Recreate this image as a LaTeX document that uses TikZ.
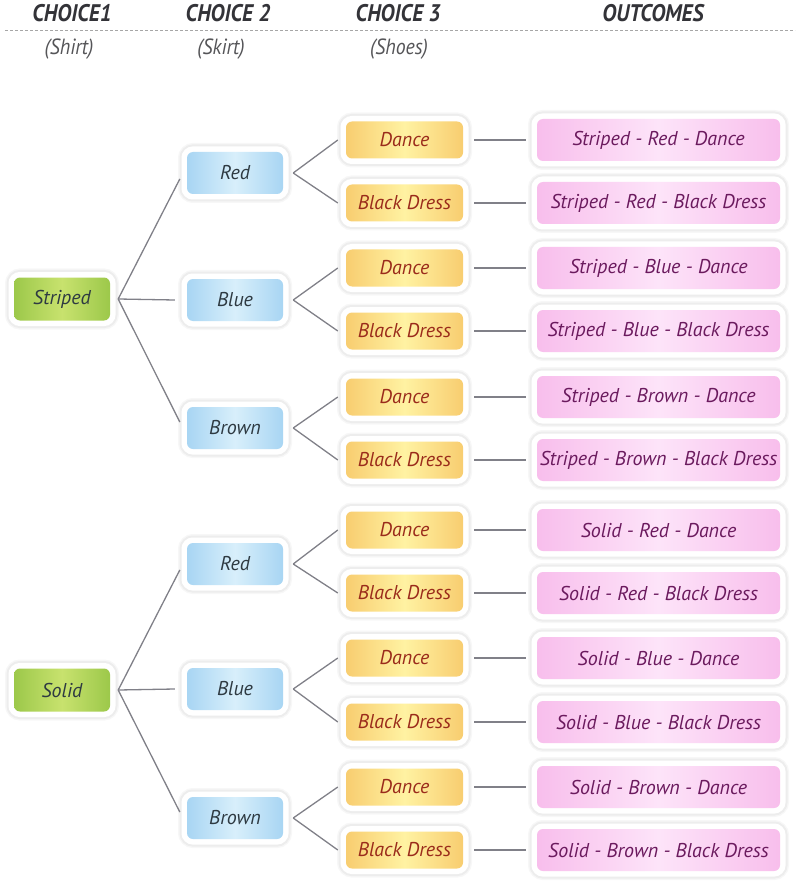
\documentclass[tikz,border=0pt]{standalone}
\usepackage{fontspec}
\setmainfont{PT Sans}
\newfontfamily\headfont[FakeStretch=0.9]{PT Sans}
\usetikzlibrary{calc}
\definecolor{gEdge}{HTML}{9CC84A}
\definecolor{gMid}{HTML}{C8E26E}
\definecolor{bEdge}{HTML}{A8D5F3}
\definecolor{bMid}{HTML}{D8EFFB}
\definecolor{yEdge}{HTML}{F8CD70}
\definecolor{yMid}{HTML}{FFF2A2}
\definecolor{pEdge}{HTML}{F8BEEC}
\definecolor{pMid}{HTML}{FDE4F9}
\definecolor{txtA}{HTML}{2E3A42}
\definecolor{txtY}{HTML}{9A2B1B}
\definecolor{txtP}{HTML}{6B1A5E}
\definecolor{connC}{HTML}{808088}
\definecolor{headC}{HTML}{333338}
\definecolor{subC}{HTML}{555558}
\begin{document}
\begin{tikzpicture}[x=1pt,y=-1pt,
  box/.style={rounded corners=6pt, inner sep=0pt,
    font=\itshape\fontsize{20}{22}\selectfont,
    preaction={draw=black!3, line width=18pt},
    preaction={draw=black!7, line width=15pt},
    preaction={draw=white, line width=11pt}},
  greenbox/.style={box, minimum width=96pt, minimum height=43pt,
    left color=gEdge, right color=gEdge, middle color=gMid, text=txtA},
  bluebox/.style={box, minimum width=96pt, minimum height=42pt,
    left color=bEdge, right color=bEdge, middle color=bMid, text=txtA},
  yellowbox/.style={box, minimum width=117pt, minimum height=37pt,
    left color=yEdge, right color=yEdge, middle color=yMid, text=txtY},
  pinkbox/.style={box, minimum width=243pt, minimum height=42pt,
    left color=pEdge, right color=pEdge, middle color=pMid, text=txtP},
  conn/.style={draw=connC, line width=1.3pt},
  head/.style={font=\headfont\itshape\bfseries\fontsize{24}{26}\selectfont, text=headC},
  subhead/.style={font=\headfont\itshape\fontsize{22}{24}\selectfont, text=subC}]
\useasboundingbox (0,0) rectangle (800,890);

% headers
\node[head] (h1) at (72,13) {CHOICE1};
\node[head] (h2) at (228,13) {CHOICE 2};
\node[head] (h3) at (398,13) {CHOICE 3};
\node[head] (h4) at (653,13) {OUTCOMES};
\coordinate (dl) at (5,31);
\coordinate (dr) at (795,31);
\draw[draw=gray!70, line width=1pt, dash pattern=on 3pt off 2pt] (dl) -- (dr);
\node[subhead] (sh1) at (69,49) {(Shirt)};
\node[subhead] (sh2) at (221,49) {(Skirt)};
\node[subhead] (sh3) at (399,49) {(Shoes)};

% choice 1
\node[greenbox] (s1) at (62,299) {Striped};
\node[greenbox] (s2) at (62,690) {Solid};

% choice 2
\foreach \n/\y/\t in {1/173/Red,2/300/Blue,3/428/Brown,4/564/Red,5/689/Blue,6/818/Brown}
  \node[bluebox] (c\n) at (235,\y) {\t};

% choice 3
\foreach \n/\y/\t in {1/140/Dance,2/203/Black Dress,3/268/Dance,4/331/Black Dress,
  5/397/Dance,6/460/Black Dress,7/530/Dance,8/593/Black Dress,
  9/658/Dance,10/722/Black Dress,11/787/Dance,12/850/Black Dress}
  \node[yellowbox] (d\n) at (404.5,\y) {\t};

% outcomes
\foreach \n/\y/\t in {1/140/Striped - Red - Dance,2/203/Striped - Red - Black Dress,
  3/268/Striped - Blue - Dance,4/331/Striped - Blue - Black Dress,
  5/397/Striped - Brown - Dance,6/460/Striped - Brown - Black Dress,
  7/530/Solid - Red - Dance,8/593/Solid - Red - Black Dress,
  9/658/Solid - Blue - Dance,10/722/Solid - Blue - Black Dress,
  11/787/Solid - Brown - Dance,12/850/Solid - Brown - Black Dress}
  \node[pinkbox] (o\n) at (658.5,\y) {\t};

% connectors choice1 -> choice2
\foreach \i/\a/\b/\c in {1/1/2/3,2/4/5/6}{
  \draw[conn] ($(s\i.east)+(8,0)$) -- ($(c\a.west)+(-7,6)$);
  \draw[conn] ($(s\i.east)+(8,0)$) -- ($(c\b.west)+(-12,0)$);
  \draw[conn] ($(s\i.east)+(8,0)$) -- ($(c\c.west)+(-7,-6)$);
}
% choice2 -> choice3
\foreach \i in {1,...,6}{
  \pgfmathtruncatemacro\a{2*\i-1}
  \pgfmathtruncatemacro\b{2*\i}
  \draw[conn] ($(c\i.east)+(10,0)$) -- ($(d\a.west)+(-8,0)$);
  \draw[conn] ($(c\i.east)+(10,0)$) -- ($(d\b.west)+(-8,0)$);
}
% choice3 -> outcomes
\foreach \i in {1,...,12}
  \draw[conn] ($(d\i.east)+(11,0)$) -- ($(o\i.west)+(-11,0)$);
\end{tikzpicture}
\end{document}
